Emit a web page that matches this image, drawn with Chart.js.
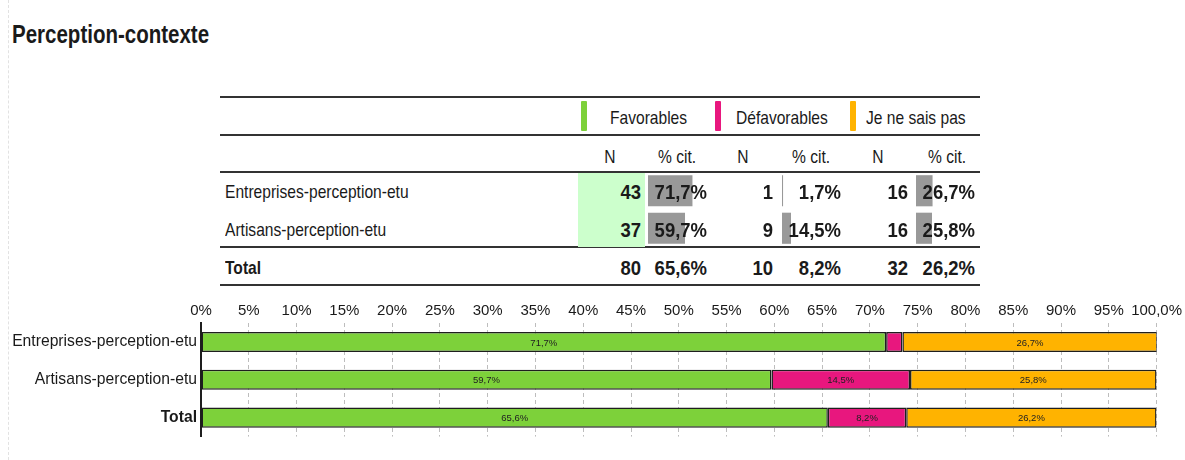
<!DOCTYPE html>
<html>
<head>
<meta charset="utf-8">
<script src="https://cdn.jsdelivr.net/npm/chart.js@4.4.1/dist/chart.umd.min.js"></script>
<style>
  html, body { margin: 0; padding: 0; background: #fff; }
  #page {
    position: relative; width: 1185px; height: 460px; overflow: hidden;
    font-family: 'Liberation Sans', Arial, sans-serif;
    color: #1a1a1a;
  }
  #page .t { position: absolute; white-space: nowrap; line-height: 24px; height: 24px; }
  .l { transform: scaleX(0.82); transform-origin: left center; }
  .c { transform: scaleX(0.82); transform-origin: center center; text-align: center; }
  .r { transform: scaleX(0.88); transform-origin: right center; text-align: right; }
  #edge { position: absolute; left: 8px; top: 0; height: 460px; border-left: 1px dashed #e2e2e2; }
  #title { position: absolute; left: 12px; top: 20px; font-size: 25px; font-weight: bold; line-height: 28px;
           transform: scaleX(0.82); transform-origin: left center; }
  .hline { position: absolute; left: 220px; width: 760px; height: 2px; background: #333; }
  .swatch { position: absolute; width: 6px; height: 30px; top: 101px; border-radius: 1px; }
  canvas { position: absolute; }
</style>
</head>
<body>
<div id="page">
  <div id="edge"></div>
  <div id="title">Perception-contexte</div>
  <div id="table"></div>
  <canvas id="favBars" width="62" height="75"></canvas>
  <canvas id="defBars" width="62" height="75"></canvas>
  <canvas id="nspBars" width="62" height="75"></canvas>
  <canvas id="mainChart" width="1185" height="160"></canvas>
</div>
<script>
// Data
const groups = ['Entreprises-perception-etu', 'Artisans-perception-etu', 'Total'];
const answers = ['Favorables', 'Défavorables', 'Je ne sais pas'];
const favN = [43, 37, 80];
const defN = [1, 9, 10];
const nspN = [16, 16, 32];
const favPct = [71.7, 59.7, 65.6];
const defPct = [1.7, 14.5, 8.2];
const nspPct = [26.7, 25.8, 26.2];
const xTicks = [0, 5, 10, 15, 20, 25, 30, 35, 40, 45, 50, 55, 60, 65, 70, 75, 80, 85, 90, 95, 100];

const FONT = "'Liberation Sans', Arial, sans-serif";
const COLORS = ['#7dd13a', '#e8177e', '#ffb300'];
const TEXT = '#1a1a1a';

Chart.defaults.font.family = FONT;
Chart.defaults.color = TEXT;

function fmtPct(v) {
    return v.toFixed(1).replace('.', ',') + '%';
}

/**
 * Build the summary table above the chart
 */
function buildTable() {
    const table = document.getElementById('table');
    const nCols = [favN, defN, nspN];
    const pCols = [favPct, defPct, nspPct];
    const nRight = [641, 773, 908];
    const pRight = [707, 841, 975];
    const nCenter = [610, 743, 878];
    const pCenter = [677, 811, 947];
    const swatchX = [581, 715, 850];
    const headX = [610, 736, 866];
    const rowY = [192, 230, 268];

    let html = '';
    [97, 135, 172, 247, 285].forEach(y => {
        html += `<div class="hline" style="top:${y - 1}px"></div>`;
    });
    // light green background behind Favorables N
    html += '<div style="position:absolute;left:578px;top:173px;width:67px;height:74px;background:#ccffcc"></div>';

    answers.forEach((a, i) => {
        html += `<div class="swatch" style="left:${swatchX[i]}px;background:${COLORS[i]}"></div>`;
        html += `<div class="t l" style="left:${headX[i]}px;top:106px;font-size:19px">${a}</div>`;
        html += `<div class="t c" style="left:${nCenter[i] - 30}px;width:60px;top:145px;font-size:19px">N</div>`;
        html += `<div class="t c" style="left:${pCenter[i] - 40}px;width:80px;top:145px;font-size:19px">% cit.</div>`;
    });

    groups.forEach((g, r) => {
        const bold = r === 2 ? 'font-weight:bold;' : '';
        html += `<div class="t l" style="left:225px;top:${rowY[r] - 12}px;font-size:19px;${bold}">${g}</div>`;
        for (let c = 0; c < 3; c++) {
            html += `<div class="t r" style="left:${nRight[c] - 60}px;width:60px;top:${rowY[r] - 12}px;font-size:21px;font-weight:bold;z-index:2">${nCols[c][r]}</div>`;
            html += `<div class="t r" style="left:${pRight[c] - 70}px;width:70px;top:${rowY[r] - 12}px;font-size:21px;font-weight:bold;z-index:2">${fmtPct(pCols[c][r])}</div>`;
        }
    });
    table.innerHTML = html;
}

/**
 * Small gray bars inside the % cit. columns
 */
function renderMiniBars(id, values, left) {
    const canvas = document.getElementById(id);
    canvas.style.left = left + 'px';
    canvas.style.top = '172px';
    new Chart(canvas.getContext('2d'), {
        type: 'bar',
        data: {
            labels: groups.slice(0, 2),
            datasets: [{ data: values.slice(0, 2), backgroundColor: '#999999' }]
        },
        options: {
            indexAxis: 'y',
            responsive: false,
            animation: false,
            layout: { padding: 0 },
            barPercentage: 0.83,
            categoryPercentage: 1,
            plugins: { legend: { display: false }, tooltip: { enabled: false } },
            scales: {
                x: { display: false, min: 0, max: 100 },
                y: { display: false }
            }
        }
    });
}

// Value labels centred in each segment
const segmentLabels = {
    id: 'segmentLabels',
    afterDatasetsDraw(chart) {
        const ctx = chart.ctx;
        ctx.save();
        ctx.font = `9.5px ${FONT}`;
        ctx.fillStyle = '#222';
        ctx.textAlign = 'center';
        ctx.textBaseline = 'middle';
        chart.data.datasets.forEach((ds, di) => {
            chart.getDatasetMeta(di).data.forEach((bar, i) => {
                const v = ds.data[i];
                if (v < 5) return;
                ctx.fillText(fmtPct(v), (bar.x + bar.base) / 2, bar.y + 1);
            });
        });
        ctx.restore();
    }
};

/**
 * Render stacked horizontal bar chart
 */
function renderMainChart() {
    const canvas = document.getElementById('mainChart');
    canvas.style.left = '0px';
    canvas.style.top = '290px';
    new Chart(canvas.getContext('2d'), {
        type: 'bar',
        data: {
            labels: groups,
            datasets: [
                { label: answers[0], data: favPct, backgroundColor: COLORS[0] },
                { label: answers[1], data: defPct, backgroundColor: COLORS[1] },
                { label: answers[2], data: nspPct, backgroundColor: COLORS[2] }
            ]
        },
        options: {
            indexAxis: 'y',
            responsive: false,
            animation: false,
            layout: { padding: { left: 0, right: 28, top: 0, bottom: 13 } },
            datasets: {
                bar: {
                    barPercentage: 0.53,
                    categoryPercentage: 1,
                    borderWidth: 1.5,
                    borderColor: '#1e1e1e',
                    borderSkipped: false
                }
            },
            plugins: { legend: { display: false }, tooltip: { enabled: false } },
            scales: {
                x: {
                    position: 'top',
                    stacked: true,
                    min: 0,
                    max: 100,
                    afterBuildTicks: s => { s.ticks = xTicks.map(v => ({ value: v })); },
                    afterFit: s => { s.height = 33; },
                    ticks: {
                        autoSkip: false,
                        maxRotation: 0,
                        padding: 3,
                        color: TEXT,
                        font: { size: 15 },
                        callback: v => v === 100 ? '100,0%' : v + '%'
                    },
                    grid: { color: '#bdbdbd', drawTicks: false },
                    border: { display: false, dash: [4, 3] }
                },
                y: {
                    stacked: true,
                    afterFit: s => { s.width = 201; },
                    ticks: {
                        padding: 4,
                        color: TEXT,
                        font: c => ({ size: 15.7, weight: c.index === 2 ? 'bold' : 'normal' })
                    },
                    grid: { display: false, drawTicks: false },
                    border: { color: '#1e1e1e', width: 2 }
                }
            }
        },
        plugins: [segmentLabels]
    });
}

buildTable();
renderMiniBars('favBars', favPct, 648);
renderMiniBars('defBars', defPct, 782);
renderMiniBars('nspBars', nspPct, 916);
renderMainChart();
</script>
</body>
</html>
